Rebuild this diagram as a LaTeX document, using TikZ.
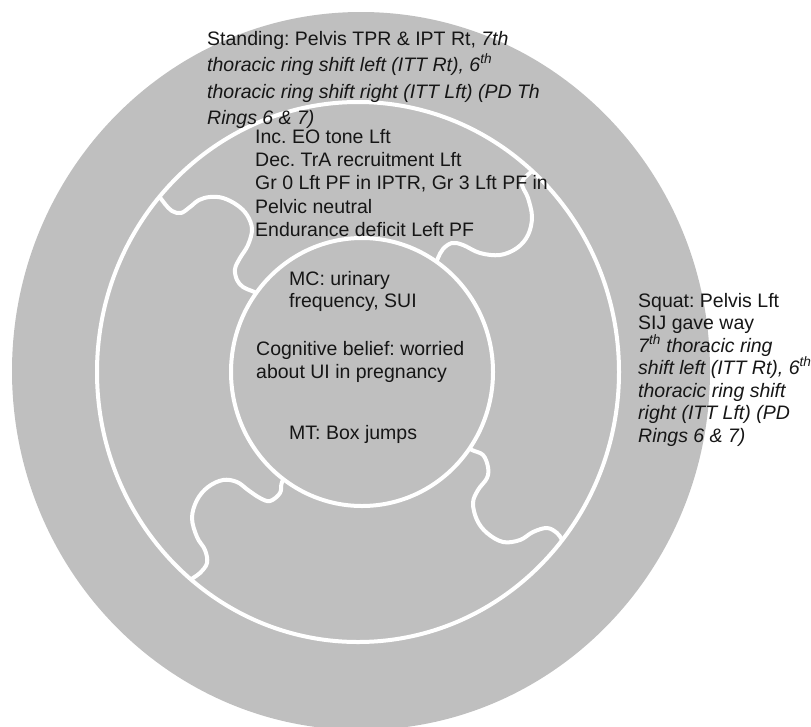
\documentclass[tikz,border=0pt]{standalone}
\usepackage{fontspec}
\setmainfont{Liberation Sans}
\frenchspacing
\definecolor{ringgray}{RGB}{191,191,191}
\definecolor{ink}{RGB}{22,22,22}
\tikzset{
  txt/.style={anchor=base west, inner sep=0pt, font=\fontsize{19.5}{23}\selectfont\frenchspacing, text=ink},
  seam/.style={draw=white, line width=4pt, line cap=round, line join=round},
}
\begin{document}
\begin{tikzpicture}[x=1pt,y=-1pt]
\useasboundingbox (0,0) rectangle (811,726);
\clip (0,0) rectangle (811,726);
% outer disc
\fill[ringgray] (361,371) ellipse [x radius=349pt, y radius=359pt];
% puzzle seams between inner and middle ring
\begin{scope}
\clip (358,372) ellipse [x radius=261pt, y radius=270pt];
\draw[seam] plot[smooth, tension=0.6] coordinates {(148,185) (158,195) (165,204) (172,211) (181,213) (190,207) (199,200) (210,197) (223,198) (237,205) (247,215) (252,229) (248,245) (240,258) (235,269) (237,280) (243,287) (252,291) (262,295)};
\draw[seam] plot[smooth, tension=0.6] coordinates {(548,150) (535,168) (522,182) (528,198) (532,217) (528,235) (517,248) (500,255) (480,253) (463,245) (452,243) (443,249) (438,258) (434,268)};
\draw[seam] plot[smooth, tension=0.6] coordinates {(290,470) (282,482) (280,493) (270,501) (260,498) (248,490) (237,482) (223,480) (208,487) (197,500) (192,518) (197,537) (205,550) (207,563) (200,573) (193,578) (182,587)};
\draw[seam] plot[smooth, tension=0.6] coordinates {(462,444) (472,450) (483,455) (488,467) (487,478) (478,490) (473,503) (477,520) (487,533) (503,542) (520,540) (533,532) (547,528) (557,533) (562,540) (568,552)};
\end{scope}
% inner disc
\fill[ringgray] (362,372) ellipse [x radius=131pt, y radius=134pt];
% white rings
\draw[seam] (358,372) ellipse [x radius=261pt, y radius=270pt];
\draw[seam] (362,372) ellipse [x radius=131pt, y radius=134pt];
% Standing block
\node[txt] (s1) at (207,45) {Standing: Pelvis TPR \& IPT Rt, \textit{7th}};
\node[txt] (s2) at (207,71.5) {\textit{thoracic ring shift left (ITT Rt), 6\textsuperscript{th}}};
\node[txt] (s3) at (207,98) {\textit{thoracic ring shift right (ITT Lft) (PD Th}};
\node[txt] (s4) at (207,124.5) {\textit{Rings 6 \& 7)}};
% middle ring block
\node[txt] (m1) at (255,143) {Inc. EO tone Lft};
\node[txt] (m2) at (255,166.3) {Dec. TrA recruitment Lft};
\node[txt] (m3) at (255,189.7) {Gr 0 Lft PF in IPTR, Gr 3 Lft PF in};
\node[txt] (m4) at (255,213) {Pelvic neutral};
\node[txt] (m5) at (255,236.3) {Endurance deficit Left PF};
% inner circle
\node[txt] (c1) at (289,285) {MC: urinary};
\node[txt] (c2) at (289,307) {frequency, SUI};
\node[txt] (c3) at (256,355) {Cognitive belief: worried};
\node[txt] (c4) at (256,378) {about UI in pregnancy};
\node[txt] (c5) at (289,439) {MT: Box jumps};
% Squat block
\node[txt] (q1) at (638,307) {Squat: Pelvis Lft};
\node[txt] (q2) at (638,329.5) {SIJ gave way};
\node[txt] (q3) at (638,352) {\textit{7\textsuperscript{th} thoracic ring}};
\node[txt] (q4) at (638,374.5) {\textit{shift left (ITT Rt), 6\textsuperscript{th}}};
\node[txt] (q5) at (638,397) {\textit{thoracic ring shift}};
\node[txt] (q6) at (638,419.5) {\textit{right (ITT Lft) (PD}};
\node[txt] (q7) at (638,442) {\textit{Rings 6 \& 7)}};
\end{tikzpicture}
\end{document}
